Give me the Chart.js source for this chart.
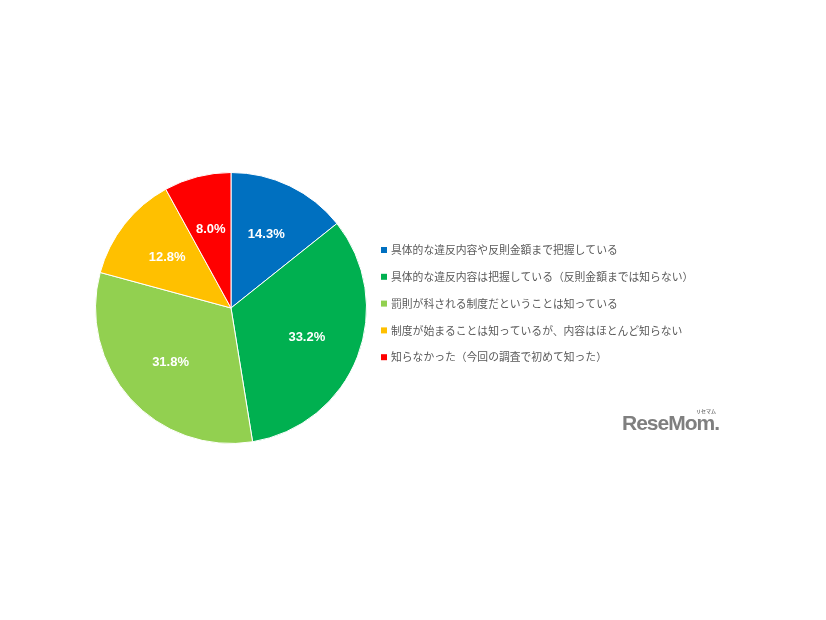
<!DOCTYPE html>
<html>
<head>
<meta charset="utf-8">
<script src="https://cdn.jsdelivr.net/npm/chart.js@4"></script>
<style>
  html, body { margin: 0; padding: 0; background: #fff; }
  #wrap { position: relative; width: 826px; height: 620px; }
  #logo { position: absolute; left: 622px; top: 411px; font-family: "Liberation Sans", Arial, sans-serif;
    font-weight: bold; font-size: 21px; color: #7f7f7f; letter-spacing: -1px; }
  #logo small { position: absolute; left: 74px; top: -4px; font-size: 5px; font-family: "Noto Sans CJK JP"; letter-spacing: 0; }
</style>
</head>
<body>
<div id="wrap">
  <canvas id="pie-chart" width="826" height="620"></canvas>
  <div id="logo">ReseMom.<small>リセマム</small></div>
</div>
<script>
const pieCanvas = document.querySelector("#pie-chart");

const labels = [
  "具体的な違反内容や反則金額まで把握している",
  "具体的な違反内容は把握している（反則金額までは知らない）",
  "罰則が科される制度だということは知っている",
  "制度が始まることは知っているが、内容はほとんど知らない",
  "知らなかった（今回の調査で初めて知った）",
];
const values = [14.3, 33.2, 31.8, 12.8, 8.0];
const colors = ["#0070C0", "#00B050", "#92D050", "#FFC000", "#FF0000"];

// percent labels inside slices
const sliceLabels = {
  id: "sliceLabels",
  afterDatasetsDraw(chart) {
    const ctx = chart.ctx;
    const meta = chart.getDatasetMeta(0);
    ctx.save();
    ctx.fillStyle = "#fff";
    ctx.font = "bold 13px 'Liberation Sans', Arial, sans-serif";
    ctx.textAlign = "center";
    ctx.textBaseline = "middle";
    meta.data.forEach((arc, i) => {
      const p = arc.getProps(["x", "y", "startAngle", "endAngle", "outerRadius"], true);
      const mid = (p.startAngle + p.endAngle) / 2;
      const r = p.outerRadius * 0.6;
      ctx.fillText(values[i].toFixed(1) + "%", p.x + Math.cos(mid) * r, p.y + Math.sin(mid) * r);
    });
    ctx.restore();
  },
};

// legend on the right side
const sideLegend = {
  id: "sideLegend",
  afterDraw(chart) {
    const ctx = chart.ctx;
    ctx.save();
    ctx.font = "10.8px 'Noto Sans CJK JP', sans-serif";
    ctx.textBaseline = "middle";
    labels.forEach((txt, i) => {
      const y = 250 + i * 26.8;
      ctx.fillStyle = colors[i];
      ctx.fillRect(381, y - 3, 6, 6);
      ctx.fillStyle = "#595959";
      ctx.fillText(txt, 391, y);
    });
    ctx.restore();
  },
};

let pieChart = new Chart(pieCanvas, {
  type: "pie",
  data: {
    labels: labels,
    datasets: [
      {
        data: values,
        backgroundColor: colors,
        borderColor: "#fff",
        borderWidth: 1,
      },
    ],
  },
  options: {
    responsive: false,
    animation: false,
    layout: {
      padding: { left: 95, right: 459, top: 172, bottom: 176 },
    },
    plugins: {
      legend: { display: false },
      tooltip: { enabled: false },
    },
  },
  plugins: [sliceLabels, sideLegend],
});
</script>
</body>
</html>
